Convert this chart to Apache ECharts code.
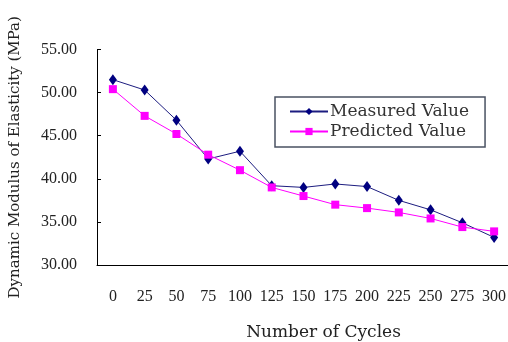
<!DOCTYPE html>
<html><head><meta charset="utf-8">
<script src="https://cdn.jsdelivr.net/npm/echarts@6/dist/echarts.min.js"></script>
<style>html,body{margin:0;padding:0;background:#fff}#c{width:508px;height:342px}</style>
</head><body><div id="c"></div>
<script>
const cycles = ['0','25','50','75','100','125','150','175','200','225','250','275','300'];
const measured = [51.5, 50.3, 46.8, 42.3, 43.2, 39.2, 39.0, 39.4, 39.1, 37.5, 36.4, 34.9, 33.2];
const predicted = [50.4, 47.3, 45.2, 42.8, 41.0, 39.0, 38.0, 37.0, 36.6, 36.1, 35.4, 34.4, 33.9];
const yTicks = {min: 30, max: 55, interval: 5};

const serif = 'Liberation Serif';
const wide = 'DejaVu Serif';
const chart = echarts.init(document.getElementById('c'), null, {renderer: 'canvas'});
chart.setOption({
  animation: false,
  backgroundColor: '#fff',
  grid: {left: 97, top: 49.5, right: -2, bottom: 77, outerBoundsMode: 'none', containLabel: false},
  legend: {
    orient: 'vertical', left: 275, top: 97,
    itemWidth: 38, itemHeight: 9, itemGap: 3,
    padding: [6, 16, 7, 14],
    borderColor: '#4a5262', borderWidth: 1.5,
    textStyle: {fontFamily: wide, fontSize: 17, color: '#333', padding: [0, 0, 0, -3]},
    data: ['Measured Value', 'Predicted Value']
  },
  xAxis: {
    type: 'category', data: cycles, boundaryGap: true,
    name: 'Number of Cycles', nameLocation: 'middle', nameGap: 59,
    nameTextStyle: {fontFamily: wide, fontSize: 17, color: '#222', padding: [0, 0, 0, 40]},
    axisLine: {lineStyle: {color: '#000', width: 1}},
    axisTick: {inside: true, length: 4, lineStyle: {color: '#000'}},
    axisLabel: {fontFamily: serif, fontSize: 16, color: '#222', margin: 24, interval: 0}
  },
  yAxis: {
    type: 'value', min: yTicks.min, max: yTicks.max, interval: yTicks.interval,
    name: 'Dynamic Modulus of Elasticity (MPa)', nameLocation: 'middle', nameGap: 74,
    nameTextStyle: {fontFamily: wide, fontSize: 15, color: '#222'},
    axisLine: {show: true, lineStyle: {color: '#000', width: 1}},
    axisTick: {show: true, inside: true, length: 4, lineStyle: {color: '#000'}},
    splitLine: {show: false},
    axisLabel: {fontFamily: serif, fontSize: 16, color: '#222', margin: 20,
      formatter: v => v.toFixed(2)}
  },
  series: [
    {name: 'Measured Value', type: 'line', data: measured,
     symbol: 'diamond', symbolSize: [8, 11],
     lineStyle: {color: '#1c1c80', width: 1},
     itemStyle: {color: '#000080'}},
    {name: 'Predicted Value', type: 'line', data: predicted,
     symbol: 'rect', symbolSize: 8,
     lineStyle: {color: '#ff00ff', width: 1},
     itemStyle: {color: '#ff00ff'}}
  ]
});
</script></body></html>
